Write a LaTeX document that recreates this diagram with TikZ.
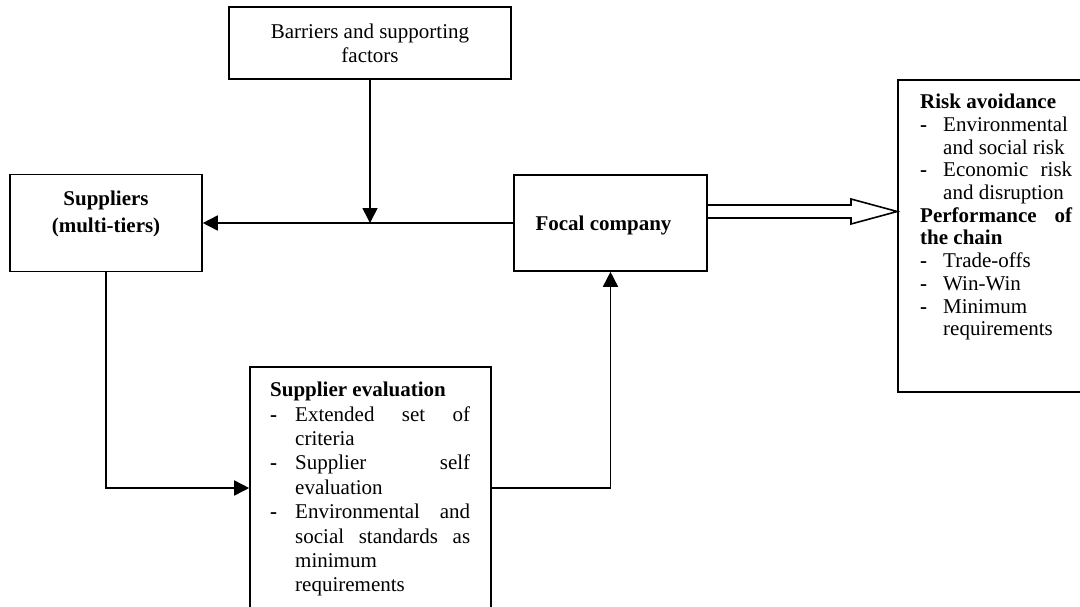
\documentclass[tikz,border=0pt]{standalone}
\usepackage{fontspec}
\setmainfont{Liberation Serif}
\usetikzlibrary{arrows.meta,calc}
\begin{document}
\begin{tikzpicture}[x=1pt,y=-1pt,
  box/.style={draw,line width=1.6pt,inner sep=0pt},
  conn/.style={line width=1.6pt},
  arr/.style={conn,-{Triangle[length=15pt,width=15pt]}},
  txt/.style={font=\fontsize{21}{24.2}\selectfont},
  boldtxt/.style={font=\fontsize{21}{27}\selectfont\bfseries,align=center,inner sep=0pt},
  listtxt/.style={anchor=north west,inner sep=0pt,align=justify},
]
\useasboundingbox (0,0) rectangle (1080,606);
\clip (0,0) rectangle (1080,606);

% boxes
\node[box,txt,align=center,minimum width=282pt,minimum height=72pt] (bar) at (370,43) {Barriers and supporting\\factors};
\node[box,minimum width=192pt,minimum height=97pt] (sup) at (106,223) {};
\node[boldtxt] (suptxt) at (106,214) {Suppliers\\(multi-tiers)};
\node[box,minimum width=193pt,minimum height=96pt] (foc) at (610.5,223) {};
\node[boldtxt] (foctxt) at (603.5,225) {Focal company};
\node[box,minimum width=241pt,minimum height=242pt] (eval) at (370.5,488) {};
\node[box,minimum width=184pt,minimum height=312pt] (risk) at (990,236) {};

% list texts
\node[listtxt,text width=200pt,font=\fontsize{21}{24.4}\selectfont] (evaltxt) at (270,382) {%
\parindent=0pt\tolerance=10000\hyphenpenalty=10000\exhyphenpenalty=10000
\textbf{Supplier evaluation}\par
\noindent\hangindent=25pt\hangafter=1\makebox[25pt][l]{\textbf{-}}Extended set of\linebreak criteria\par
\noindent\hangindent=25pt\hangafter=1\makebox[25pt][l]{\textbf{-}}Supplier self\linebreak evaluation\par
\noindent\hangindent=25pt\hangafter=1\makebox[25pt][l]{\textbf{-}}Environmental and\linebreak social standards as\linebreak minimum\newline requirements\par};

\node[listtxt,text width=152pt,font=\fontsize{21}{22.7}\selectfont] (risktxt) at (920,94) {%
\parindent=0pt\tolerance=10000\hyphenpenalty=10000\exhyphenpenalty=10000
\textbf{Risk avoidance}\par
\noindent\hangindent=23pt\hangafter=1\makebox[23pt][l]{\textbf{-}}Environmental\newline and social risk\par
\noindent\hangindent=23pt\hangafter=1\makebox[23pt][l]{\textbf{-}}Economic risk\linebreak and disruption\par
\noindent\textbf{Performance of\linebreak the chain}\par
\noindent\hangindent=23pt\hangafter=1\makebox[23pt][l]{\textbf{-}}Trade-offs\par
\noindent\hangindent=23pt\hangafter=1\makebox[23pt][l]{\textbf{-}}Win-Win\par
\noindent\hangindent=23pt\hangafter=1\makebox[23pt][l]{\textbf{-}}Minimum\newline requirements\par};

% connectors
\coordinate (j) at (bar.south |- foc.west);
\draw[arr] (foc.west) -- (sup.east);
\draw[arr] (bar.south) -- (j);
\draw[arr] (sup.south) |- (eval.west);
\draw[arr] (eval.east) -| (foc.south);
\draw[conn,line join=miter] (foc.east |- 0,205) -- (851,205) -- (851,199) -- (risk.west |- 0,211.5) -- (851,224) -- (851,218) -- (foc.east |- 0,218);
\end{tikzpicture}
\end{document}
